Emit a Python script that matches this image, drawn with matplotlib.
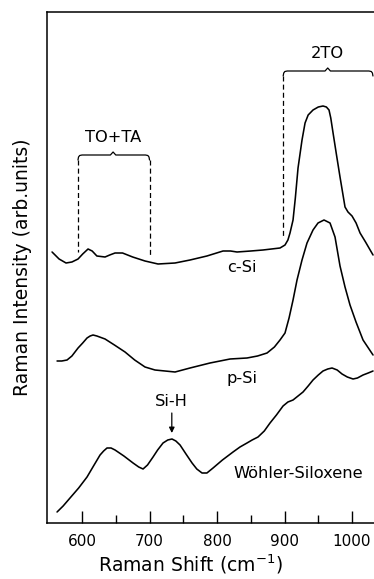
import matplotlib
matplotlib.use("Agg")
import matplotlib.pyplot as plt
import numpy as np

# Raman shift (cm^-1) and intensity (arb. units)
csi_x = [555.6, 566, 576.3, 585, 594.1, 601, 608.9, 615, 622, 634.1, 641, 648.9, 660, 675, 693.3,
         712.6, 737.8, 760, 785, 808.9, 820, 829.6, 850, 868.1, 893.3, 900.7, 905, 908.1, 912.6,
         916, 920, 925.9, 930.4, 935, 942.2, 950, 957, 962, 965.9, 968.5, 971.9, 977, 982.2,
         989.6, 994, 1000, 1006, 1011.9, 1020, 1031.1]
csi_y = [271, 264, 260, 261, 264, 269, 274, 272, 267, 266, 268, 270, 270, 266, 262,
         259, 260, 263, 267, 272, 272, 271, 272, 273, 275, 278, 283, 290, 303,
         325, 355, 383, 400, 408, 413, 416, 417, 416, 413, 405, 390, 368, 346,
         316, 311, 307, 300, 290, 281, 268]

psi_x = [563, 570, 577.8, 585, 594.1, 601, 607.4, 612, 616.3, 622, 634.1, 648, 663.7, 678, 693.3,
         708.1, 737.8, 760, 789.6, 819.3, 844.4, 860, 874.1, 885, 893.3, 900.7, 906.7, 912.6, 918.5,
         925.9, 933.3, 942.2, 949.6, 958.5, 967.4, 974.8, 982.2, 989.6, 997, 1005.9, 1016.3, 1031.1]
psi_y = [162, 162, 163, 167, 175, 180, 185, 187, 188, 187, 184, 178, 171, 163, 156,
         153, 151, 155, 160, 164, 165, 167, 170, 176, 183, 190, 205, 223, 243,
         263, 280, 293, 300, 303, 300, 286, 257, 236, 218, 201, 183, 168]

wsx_x = [563, 572, 582.2, 595, 607.4, 617, 626.7, 632, 637, 643, 648.9, 662, 675.6, 684, 690.4,
         697, 705.2, 712, 720, 727, 733.3, 739, 745.2, 754, 763, 770, 777.8, 785, 794.1, 808,
         823.7, 834, 844.4, 852, 860.7, 870, 878.5, 888, 897.8, 905, 912.6, 920, 927.4, 935, 942.2,
         950, 957, 964, 970.4, 978, 985.2, 993, 1001.5, 1008, 1016.3, 1024, 1031.1]
wsx_y = [11, 17, 25, 35, 46, 57, 68, 72, 75, 75, 73, 67, 60, 56, 54,
         58, 66, 73, 80, 83, 84, 82, 78, 69, 60, 54, 50, 50, 55, 63,
         71, 76, 80, 83, 86, 92, 100, 108, 117, 121, 123, 127, 131, 137, 143,
         148, 152, 154, 155, 153, 149, 146, 144, 145, 148, 150, 152]

tick_vals = [600, 700, 800, 900, 1000]
minor_vals = [650, 750, 850, 950]
curve_labels = ["c-Si", "p-Si", "Wöhler-Siloxene"]

fig = plt.figure(figsize=(3.74, 5.79), dpi=100)
axw = 1.0 - 47 / 374 + 0.01
ax = fig.add_axes([47 / 374, 56 / 579, axw, 511 / 579])
ax.set_xlim(548.1, 548.1 + axw * 374 / 0.675)
ax.set_ylim(0, 511)

lw = 1.15
ax.plot(csi_x, csi_y, color="black", lw=lw, solid_capstyle="round")
ax.plot(psi_x, psi_y, color="black", lw=lw, solid_capstyle="round")
ax.plot(wsx_x, wsx_y, color="black", lw=lw, solid_capstyle="round")

fs = 11.7
ax.text(837, 255, curve_labels[0], ha="center", va="center", fontsize=fs)
ax.text(837, 145, curve_labels[1], ha="center", va="center", fontsize=fs)
ax.text(921, 50, curve_labels[2], ha="center", va="center", fontsize=fs)
ax.text(733, 121, "Si-H", ha="center", va="center", fontsize=fs)
ax.annotate("", xy=(733, 90), xytext=(733, 110),
            arrowprops=dict(arrowstyle="-|>", color="black", lw=0.9,
                            mutation_scale=8, shrinkA=0, shrinkB=0))


def bracket(xl, xr, xm, ytop, yl_bot, yr_bot):
    d = 5
    xs = [xl, xl + 0.8, xl + 2.5, xl + 6, xm - 4, xm, xm + 4, xr - 6, xr - 2.5, xr - 0.8, xr]
    ys = [ytop - d, ytop - 2, ytop - 0.5, ytop, ytop, ytop + 3, ytop, ytop, ytop - 0.5, ytop - 2, ytop - d]
    ax.plot(xs, ys, color="black", lw=0.9, solid_capstyle="round")
    if yl_bot is not None:
        ax.plot([xl, xl], [ytop - d, yl_bot], color="black", lw=0.9, ls=(0, (4, 2.5)))
    if yr_bot is not None:
        ax.plot([xr, xr], [ytop - d, yr_bot], color="black", lw=0.9, ls=(0, (4, 2.5)))


bracket(594, 700, 646, 368, 271, 266)
bracket(898, 1031, 964, 452, 285, None)
ax.text(646, 386, "TO+TA", ha="center", va="center", fontsize=fs)
ax.text(964, 469, "2TO", ha="center", va="center", fontsize=fs)

ax.set_xticks(tick_vals)
ax.set_xticks(minor_vals, minor=True)
ax.set_xticklabels([str(v) for v in tick_vals], fontsize=11)
ax.set_yticks([])
ax.tick_params(axis="x", which="major", direction="in", length=9, width=1, pad=8)
ax.tick_params(axis="x", which="minor", direction="in", length=6, width=1)
ax.spines["right"].set_visible(False)
for s in ["left", "bottom", "top"]:
    ax.spines[s].set_linewidth(1.1)

axw_px = 374 * axw
ax.set_xlabel("Raman Shift (cm$^{-1}$)", fontsize=13.5)
ax.xaxis.set_label_coords((190 - 47) / axw_px, -(553 - 523) / 511)
ax.set_ylabel("Raman Intensity (arb.units)", fontsize=13.5)
ax.yaxis.set_label_coords(-(47 - 32) / axw_px, 0.5)

fig.savefig("out.png", dpi=100)
